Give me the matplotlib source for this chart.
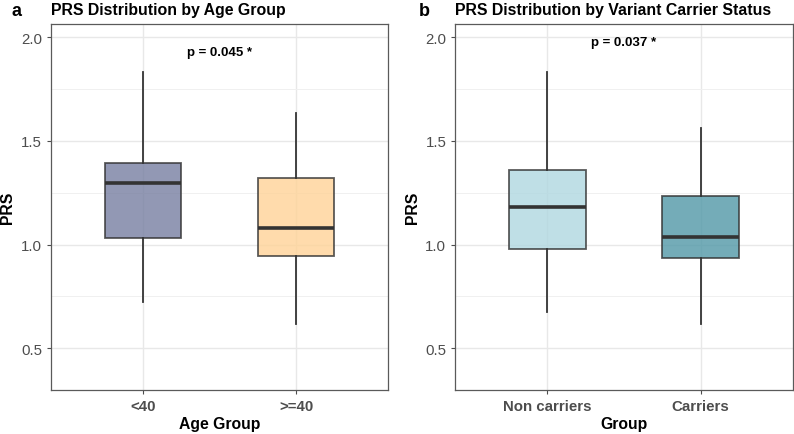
import matplotlib.pyplot as plt

plt.rcParams['font.family'] = ['Liberation Sans', 'DejaVu Sans']

# panel a: age groups
age_groups = ['<40', '>=40']
age_whislo = [0.722, 0.616]
age_q1 = [1.030, 0.945]
age_med = [1.299, 1.082]
age_q3 = [1.392, 1.320]
age_whishi = [1.833, 1.633]
age_colors = ['#777fa1', '#ffd397']
age_p = 'p = 0.045 *'
age_p_y = 1.93

# panel b: carrier status
car_groups = ['Non carriers', 'Carriers']
car_whislo = [0.675, 0.616]
car_q1 = [0.977, 0.937]
car_med = [1.183, 1.039]
car_q3 = [1.362, 1.236]
car_whishi = [1.833, 1.564]
car_colors = ['#b0d7e0', '#5198a7']
car_p = 'p = 0.037 *'
car_p_y = 1.977

yticks = [0.5, 1.0, 1.5, 2.0]
yminor = [0.75, 1.25, 1.75]

fig = plt.figure(figsize=(7.94, 4.35), dpi=100)
ax_a = fig.add_axes([0.0642, 0.1011, 0.4244, 0.8414])
ax_b = fig.add_axes([0.5734, 0.1011, 0.4250, 0.8414])


def draw_panel(ax, groups, lo, q1, med, q3, hi, colors, ptxt, py, xlabel):
    stats = []
    for i in range(len(groups)):
        stats.append(dict(whislo=lo[i], q1=q1[i], med=med[i], q3=q3[i],
                          whishi=hi[i], fliers=[], label=groups[i]))
    bp = ax.bxp(stats, positions=range(1, len(groups) + 1), widths=0.5,
                patch_artist=True, showcaps=False, showfliers=False,
                boxprops=dict(edgecolor='#333333', linewidth=1.3),
                medianprops=dict(color='#333333', linewidth=2.6),
                whiskerprops=dict(color='#333333', linewidth=1.3))
    for patch, c in zip(bp['boxes'], colors):
        patch.set_facecolor(c)
        patch.set_alpha(0.8)
        patch.set_edgecolor('#333333')
    ax.set_xlim(0.4, len(groups) + 0.6)
    ax.set_ylim(0.299, 2.064)
    ax.set_yticks(yticks)
    ax.set_yticklabels([f'{t:.1f}' for t in yticks])
    ax.set_yticks(yminor, minor=True)
    ax.set_xticks(range(1, len(groups) + 1))
    ax.set_xticklabels(groups, fontweight='bold', fontsize=11.3)
    ax.grid(True, which='major', color='#e8e8e8', linewidth=1.0, zorder=0)
    ax.grid(True, which='minor', axis='y', color='#f0f0f0', linewidth=0.7, zorder=0)
    ax.set_axisbelow(True)
    ax.tick_params(which='major', length=3, color='#4d4d4d', labelcolor='#4d4d4d',
                   labelsize=10.8, width=0.8)
    ax.tick_params(which='minor', length=0)
    for s in ax.spines.values():
        s.set_color('#5a5a5a')
        s.set_linewidth(0.9)
    ax.set_xlabel(xlabel, fontweight='bold', fontsize=11.3, labelpad=2)
    ax.set_ylabel('PRS', fontweight='bold', fontsize=11.3, labelpad=4)
    ax.text((1 + len(groups)) / 2, py, ptxt, ha='center', va='center',
            fontweight='bold', fontsize=9.5)


draw_panel(ax_a, age_groups, age_whislo, age_q1, age_med, age_q3, age_whishi,
           age_colors, age_p, age_p_y, 'Age Group')
draw_panel(ax_b, car_groups, car_whislo, car_q1, car_med, car_q3, car_whishi,
           car_colors, car_p, car_p_y, 'Group')

fig.text(12 / 794, 1 - 11 / 435, 'a', fontweight='bold', fontsize=13, va='center')
fig.text(51 / 794, 1 - 11 / 435, 'PRS Distribution by Age Group',
         fontweight='bold', fontsize=11.4, va='center')
fig.text(419 / 794, 1 - 11 / 435, 'b', fontweight='bold', fontsize=13, va='center')
fig.text(455 / 794, 1 - 11 / 435, 'PRS Distribution by Variant Carrier Status',
         fontweight='bold', fontsize=11.4, va='center')

fig.savefig('out.png', dpi=100)
